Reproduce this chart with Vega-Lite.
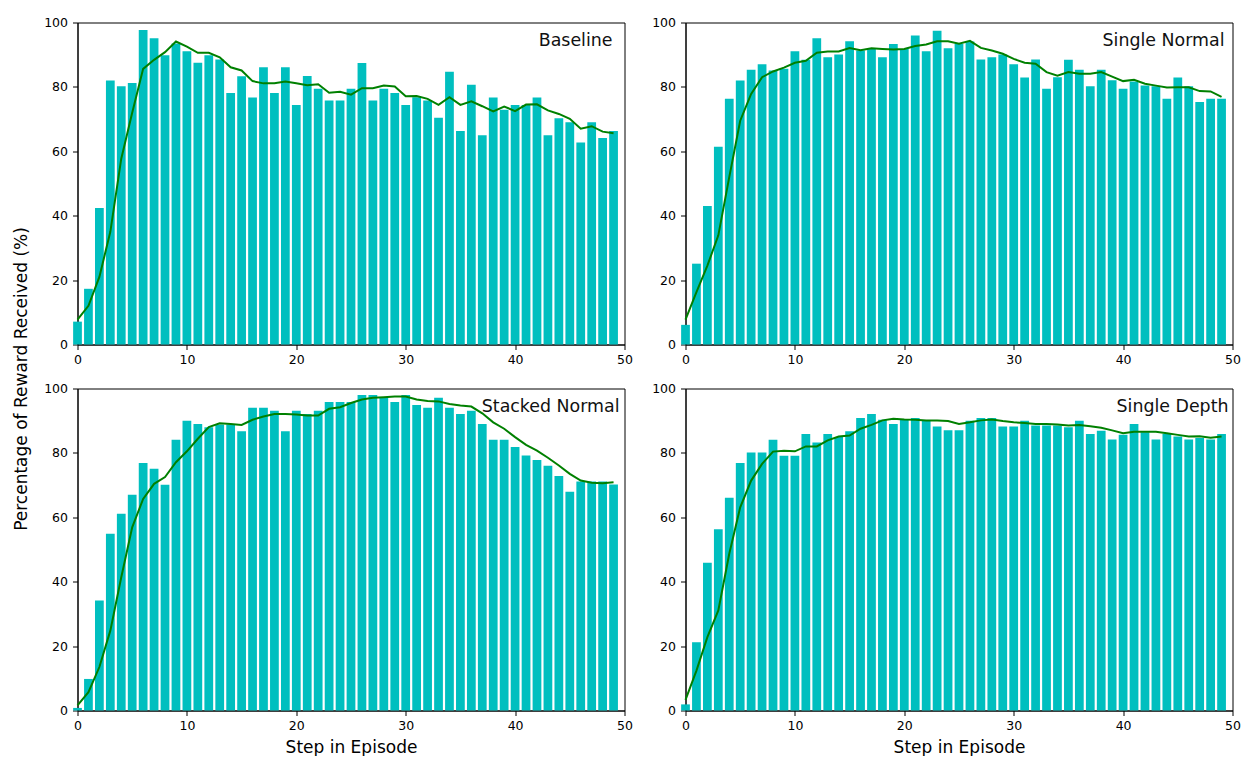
{
  "$schema": "https://vega.github.io/schema/vega-lite/v6.json",
  "background": "white",
  "padding": {"left": 11.5, "top": 15.5, "right": 0, "bottom": 0},
  "bounds": "flush",
  "columns": 2,
  "spacing": {"row": 44, "column": 61},
  "config": {
    "font": "DejaVu Sans",
    "view": {"stroke": "#000", "strokeWidth": 1},
    "axis": {
      "grid": false,
      "domainColor": "#000",
      "tickColor": "#000",
      "tickSize": 5,
      "labelColor": "#000",
      "labelFont": "DejaVu Sans",
      "labelFontSize": 12.5,
      "labelFlush": false,
      "labelOverlap": false,
      "labelPadding": 4,
      "titleFont": "DejaVu Sans",
      "titleFontSize": 17,
      "titleFontWeight": "normal",
      "titleColor": "#000"
    }
  },
  "datasets": {
    "runs": [
      {"panel": "Baseline", "step": 0, "reward": 7.1, "smooth": 7.7},
      {"panel": "Baseline", "step": 1, "reward": 17.3, "smooth": 12.0},
      {"panel": "Baseline", "step": 2, "reward": 42.4, "smooth": 21.0},
      {"panel": "Baseline", "step": 3, "reward": 82.0, "smooth": 35.0},
      {"panel": "Baseline", "step": 4, "reward": 80.2, "smooth": 57.7},
      {"panel": "Baseline", "step": 5, "reward": 81.2, "smooth": 72.0},
      {"panel": "Baseline", "step": 6, "reward": 97.7, "smooth": 85.6},
      {"panel": "Baseline", "step": 7, "reward": 95.1, "smooth": 88.4},
      {"panel": "Baseline", "step": 8, "reward": 89.8, "smooth": 90.8},
      {"panel": "Baseline", "step": 9, "reward": 93.5, "smooth": 94.1},
      {"panel": "Baseline", "step": 10, "reward": 91.1, "smooth": 92.5},
      {"panel": "Baseline", "step": 11, "reward": 87.5, "smooth": 90.6},
      {"panel": "Baseline", "step": 12, "reward": 89.8, "smooth": 90.6},
      {"panel": "Baseline", "step": 13, "reward": 88.5, "smooth": 89.2},
      {"panel": "Baseline", "step": 14, "reward": 78.1, "smooth": 86.1},
      {"panel": "Baseline", "step": 15, "reward": 83.3, "smooth": 85.1},
      {"panel": "Baseline", "step": 16, "reward": 76.7, "smooth": 81.8},
      {"panel": "Baseline", "step": 17, "reward": 86.1, "smooth": 81.1},
      {"panel": "Baseline", "step": 18, "reward": 78.1, "smooth": 81.1},
      {"panel": "Baseline", "step": 19, "reward": 86.1, "smooth": 81.7},
      {"panel": "Baseline", "step": 20, "reward": 74.4, "smooth": 81.1},
      {"panel": "Baseline", "step": 21, "reward": 83.4, "smooth": 80.5},
      {"panel": "Baseline", "step": 22, "reward": 79.4, "smooth": 80.8},
      {"panel": "Baseline", "step": 23, "reward": 75.8, "smooth": 78.2},
      {"panel": "Baseline", "step": 24, "reward": 75.8, "smooth": 78.5},
      {"panel": "Baseline", "step": 25, "reward": 79.4, "smooth": 77.6},
      {"panel": "Baseline", "step": 26, "reward": 87.4, "smooth": 79.6},
      {"panel": "Baseline", "step": 27, "reward": 75.8, "smooth": 79.6},
      {"panel": "Baseline", "step": 28, "reward": 79.4, "smooth": 80.4},
      {"panel": "Baseline", "step": 29, "reward": 78.1, "smooth": 80.1},
      {"panel": "Baseline", "step": 30, "reward": 74.4, "smooth": 77.1},
      {"panel": "Baseline", "step": 31, "reward": 76.8, "smooth": 77.2},
      {"panel": "Baseline", "step": 32, "reward": 75.8, "smooth": 76.3},
      {"panel": "Baseline", "step": 33, "reward": 70.4, "smooth": 74.4},
      {"panel": "Baseline", "step": 34, "reward": 84.7, "smooth": 76.8},
      {"panel": "Baseline", "step": 35, "reward": 66.3, "smooth": 74.4},
      {"panel": "Baseline", "step": 36, "reward": 80.7, "smooth": 75.5},
      {"panel": "Baseline", "step": 37, "reward": 65.0, "smooth": 74.0},
      {"panel": "Baseline", "step": 38, "reward": 76.7, "smooth": 72.4},
      {"panel": "Baseline", "step": 39, "reward": 72.9, "smooth": 73.9},
      {"panel": "Baseline", "step": 40, "reward": 74.4, "smooth": 72.5},
      {"panel": "Baseline", "step": 41, "reward": 74.4, "smooth": 74.5},
      {"panel": "Baseline", "step": 42, "reward": 76.7, "smooth": 74.6},
      {"panel": "Baseline", "step": 43, "reward": 65.0, "smooth": 72.7},
      {"panel": "Baseline", "step": 44, "reward": 70.3, "smooth": 71.6},
      {"panel": "Baseline", "step": 45, "reward": 69.0, "smooth": 70.1},
      {"panel": "Baseline", "step": 46, "reward": 62.7, "smooth": 67.0},
      {"panel": "Baseline", "step": 47, "reward": 69.0, "smooth": 67.8},
      {"panel": "Baseline", "step": 48, "reward": 64.1, "smooth": 66.1},
      {"panel": "Baseline", "step": 49, "reward": 66.3, "smooth": 65.6},

      {"panel": "Single Normal", "step": 0, "reward": 6.1, "smooth": 7.7},
      {"panel": "Single Normal", "step": 1, "reward": 25.1, "smooth": 16.3},
      {"panel": "Single Normal", "step": 2, "reward": 43.0, "smooth": 24.5},
      {"panel": "Single Normal", "step": 3, "reward": 61.4, "smooth": 33.9},
      {"panel": "Single Normal", "step": 4, "reward": 76.3, "smooth": 52.0},
      {"panel": "Single Normal", "step": 5, "reward": 82.0, "smooth": 69.5},
      {"panel": "Single Normal", "step": 6, "reward": 85.3, "smooth": 77.8},
      {"panel": "Single Normal", "step": 7, "reward": 87.0, "smooth": 83.0},
      {"panel": "Single Normal", "step": 8, "reward": 85.1, "smooth": 84.8},
      {"panel": "Single Normal", "step": 9, "reward": 85.6, "smooth": 86.0},
      {"panel": "Single Normal", "step": 10, "reward": 91.1, "smooth": 87.5},
      {"panel": "Single Normal", "step": 11, "reward": 88.4, "smooth": 88.1},
      {"panel": "Single Normal", "step": 12, "reward": 95.1, "smooth": 90.6},
      {"panel": "Single Normal", "step": 13, "reward": 89.2, "smooth": 91.0},
      {"panel": "Single Normal", "step": 14, "reward": 90.1, "smooth": 91.0},
      {"panel": "Single Normal", "step": 15, "reward": 94.2, "smooth": 92.1},
      {"panel": "Single Normal", "step": 16, "reward": 91.3, "smooth": 91.4},
      {"panel": "Single Normal", "step": 17, "reward": 91.8, "smooth": 92.0},
      {"panel": "Single Normal", "step": 18, "reward": 89.2, "smooth": 91.8},
      {"panel": "Single Normal", "step": 19, "reward": 93.3, "smooth": 91.6},
      {"panel": "Single Normal", "step": 20, "reward": 91.8, "smooth": 91.8},
      {"panel": "Single Normal", "step": 21, "reward": 96.0, "smooth": 92.7},
      {"panel": "Single Normal", "step": 22, "reward": 91.1, "smooth": 93.2},
      {"panel": "Single Normal", "step": 23, "reward": 97.4, "smooth": 94.2},
      {"panel": "Single Normal", "step": 24, "reward": 92.0, "smooth": 94.2},
      {"panel": "Single Normal", "step": 25, "reward": 93.3, "smooth": 93.4},
      {"panel": "Single Normal", "step": 26, "reward": 94.1, "smooth": 94.3},
      {"panel": "Single Normal", "step": 27, "reward": 88.5, "smooth": 92.1},
      {"panel": "Single Normal", "step": 28, "reward": 89.2, "smooth": 91.3},
      {"panel": "Single Normal", "step": 29, "reward": 90.1, "smooth": 90.3},
      {"panel": "Single Normal", "step": 30, "reward": 87.0, "smooth": 88.7},
      {"panel": "Single Normal", "step": 31, "reward": 82.9, "smooth": 87.5},
      {"panel": "Single Normal", "step": 32, "reward": 88.5, "smooth": 87.2},
      {"panel": "Single Normal", "step": 33, "reward": 79.4, "smooth": 84.6},
      {"panel": "Single Normal", "step": 34, "reward": 83.0, "smooth": 83.5},
      {"panel": "Single Normal", "step": 35, "reward": 88.4, "smooth": 84.6},
      {"panel": "Single Normal", "step": 36, "reward": 85.3, "smooth": 84.1},
      {"panel": "Single Normal", "step": 37, "reward": 80.2, "smooth": 84.1},
      {"panel": "Single Normal", "step": 38, "reward": 85.3, "smooth": 84.6},
      {"panel": "Single Normal", "step": 39, "reward": 82.1, "smooth": 83.2},
      {"panel": "Single Normal", "step": 40, "reward": 79.4, "smooth": 81.8},
      {"panel": "Single Normal", "step": 41, "reward": 81.7, "smooth": 82.2},
      {"panel": "Single Normal", "step": 42, "reward": 80.4, "smooth": 81.0},
      {"panel": "Single Normal", "step": 43, "reward": 80.2, "smooth": 80.4},
      {"panel": "Single Normal", "step": 44, "reward": 76.3, "smooth": 79.8},
      {"panel": "Single Normal", "step": 45, "reward": 82.9, "smooth": 79.9},
      {"panel": "Single Normal", "step": 46, "reward": 80.2, "smooth": 79.9},
      {"panel": "Single Normal", "step": 47, "reward": 75.3, "smooth": 78.7},
      {"panel": "Single Normal", "step": 48, "reward": 76.3, "smooth": 78.6},
      {"panel": "Single Normal", "step": 49, "reward": 76.3, "smooth": 76.9},

      {"panel": "Stacked Normal", "step": 0, "reward": 0.8, "smooth": 1.6},
      {"panel": "Stacked Normal", "step": 1, "reward": 9.8, "smooth": 5.7},
      {"panel": "Stacked Normal", "step": 2, "reward": 34.2, "smooth": 13.5},
      {"panel": "Stacked Normal", "step": 3, "reward": 54.9, "smooth": 24.8},
      {"panel": "Stacked Normal", "step": 4, "reward": 61.1, "smooth": 41.4},
      {"panel": "Stacked Normal", "step": 5, "reward": 67.0, "smooth": 56.9},
      {"panel": "Stacked Normal", "step": 6, "reward": 76.9, "smooth": 65.7},
      {"panel": "Stacked Normal", "step": 7, "reward": 75.1, "smooth": 70.4},
      {"panel": "Stacked Normal", "step": 8, "reward": 70.1, "smooth": 72.5},
      {"panel": "Stacked Normal", "step": 9, "reward": 84.1, "smooth": 77.1},
      {"panel": "Stacked Normal", "step": 10, "reward": 90.0, "smooth": 80.5},
      {"panel": "Stacked Normal", "step": 11, "reward": 89.0, "smooth": 84.4},
      {"panel": "Stacked Normal", "step": 12, "reward": 88.0, "smooth": 88.0},
      {"panel": "Stacked Normal", "step": 13, "reward": 88.8, "smooth": 89.2},
      {"panel": "Stacked Normal", "step": 14, "reward": 88.8, "smooth": 89.0},
      {"panel": "Stacked Normal", "step": 15, "reward": 86.7, "smooth": 88.7},
      {"panel": "Stacked Normal", "step": 16, "reward": 94.0, "smooth": 90.3},
      {"panel": "Stacked Normal", "step": 17, "reward": 94.0, "smooth": 91.3},
      {"panel": "Stacked Normal", "step": 18, "reward": 93.1, "smooth": 92.1},
      {"panel": "Stacked Normal", "step": 19, "reward": 86.7, "smooth": 92.1},
      {"panel": "Stacked Normal", "step": 20, "reward": 93.1, "smooth": 91.9},
      {"panel": "Stacked Normal", "step": 21, "reward": 92.1, "smooth": 91.6},
      {"panel": "Stacked Normal", "step": 22, "reward": 93.1, "smooth": 91.6},
      {"panel": "Stacked Normal", "step": 23, "reward": 95.8, "smooth": 93.7},
      {"panel": "Stacked Normal", "step": 24, "reward": 95.8, "smooth": 94.2},
      {"panel": "Stacked Normal", "step": 25, "reward": 95.8, "smooth": 95.5},
      {"panel": "Stacked Normal", "step": 26, "reward": 98.0, "smooth": 96.6},
      {"panel": "Stacked Normal", "step": 27, "reward": 98.0, "smooth": 97.1},
      {"panel": "Stacked Normal", "step": 28, "reward": 97.1, "smooth": 97.3},
      {"panel": "Stacked Normal", "step": 29, "reward": 95.8, "smooth": 97.5},
      {"panel": "Stacked Normal", "step": 30, "reward": 98.0, "smooth": 97.5},
      {"panel": "Stacked Normal", "step": 31, "reward": 94.9, "smooth": 96.6},
      {"panel": "Stacked Normal", "step": 32, "reward": 94.0, "smooth": 96.1},
      {"panel": "Stacked Normal", "step": 33, "reward": 97.1, "smooth": 96.0},
      {"panel": "Stacked Normal", "step": 34, "reward": 94.0, "smooth": 95.2},
      {"panel": "Stacked Normal", "step": 35, "reward": 92.1, "smooth": 94.7},
      {"panel": "Stacked Normal", "step": 36, "reward": 93.1, "smooth": 94.4},
      {"panel": "Stacked Normal", "step": 37, "reward": 89.0, "smooth": 92.3},
      {"panel": "Stacked Normal", "step": 38, "reward": 84.1, "smooth": 89.5},
      {"panel": "Stacked Normal", "step": 39, "reward": 84.1, "smooth": 87.5},
      {"panel": "Stacked Normal", "step": 40, "reward": 81.8, "smooth": 84.9},
      {"panel": "Stacked Normal", "step": 41, "reward": 79.2, "smooth": 82.5},
      {"panel": "Stacked Normal", "step": 42, "reward": 77.8, "smooth": 80.7},
      {"panel": "Stacked Normal", "step": 43, "reward": 76.0, "smooth": 78.5},
      {"panel": "Stacked Normal", "step": 44, "reward": 72.8, "smooth": 76.1},
      {"panel": "Stacked Normal", "step": 45, "reward": 67.9, "smooth": 73.5},
      {"panel": "Stacked Normal", "step": 46, "reward": 71.1, "smooth": 71.4},
      {"panel": "Stacked Normal", "step": 47, "reward": 71.1, "smooth": 70.7},
      {"panel": "Stacked Normal", "step": 48, "reward": 71.1, "smooth": 70.6},
      {"panel": "Stacked Normal", "step": 49, "reward": 70.2, "smooth": 70.9},

      {"panel": "Single Depth", "step": 0, "reward": 1.9, "smooth": 3.3},
      {"panel": "Single Depth", "step": 1, "reward": 21.2, "smooth": 12.4},
      {"panel": "Single Depth", "step": 2, "reward": 45.9, "smooth": 22.8},
      {"panel": "Single Depth", "step": 3, "reward": 56.3, "smooth": 31.1},
      {"panel": "Single Depth", "step": 4, "reward": 66.1, "smooth": 48.7},
      {"panel": "Single Depth", "step": 5, "reward": 76.9, "smooth": 63.1},
      {"panel": "Single Depth", "step": 6, "reward": 80.1, "smooth": 71.4},
      {"panel": "Single Depth", "step": 7, "reward": 80.1, "smooth": 76.6},
      {"panel": "Single Depth", "step": 8, "reward": 84.1, "smooth": 80.4},
      {"panel": "Single Depth", "step": 9, "reward": 79.1, "smooth": 80.7},
      {"panel": "Single Depth", "step": 10, "reward": 79.1, "smooth": 80.5},
      {"panel": "Single Depth", "step": 11, "reward": 85.9, "smooth": 82.0},
      {"panel": "Single Depth", "step": 12, "reward": 83.2, "smooth": 82.0},
      {"panel": "Single Depth", "step": 13, "reward": 85.9, "smooth": 83.9},
      {"panel": "Single Depth", "step": 14, "reward": 84.9, "smooth": 85.1},
      {"panel": "Single Depth", "step": 15, "reward": 86.7, "smooth": 85.4},
      {"panel": "Single Depth", "step": 16, "reward": 90.8, "smooth": 87.5},
      {"panel": "Single Depth", "step": 17, "reward": 92.1, "smooth": 88.7},
      {"panel": "Single Depth", "step": 18, "reward": 90.3, "smooth": 90.1},
      {"panel": "Single Depth", "step": 19, "reward": 89.0, "smooth": 90.6},
      {"panel": "Single Depth", "step": 20, "reward": 90.3, "smooth": 90.4},
      {"panel": "Single Depth", "step": 21, "reward": 90.8, "smooth": 90.3},
      {"panel": "Single Depth", "step": 22, "reward": 89.9, "smooth": 90.1},
      {"panel": "Single Depth", "step": 23, "reward": 88.2, "smooth": 90.1},
      {"panel": "Single Depth", "step": 24, "reward": 87.0, "smooth": 89.9},
      {"panel": "Single Depth", "step": 25, "reward": 87.0, "smooth": 89.0},
      {"panel": "Single Depth", "step": 26, "reward": 90.0, "smooth": 89.5},
      {"panel": "Single Depth", "step": 27, "reward": 90.8, "smooth": 90.1},
      {"panel": "Single Depth", "step": 28, "reward": 90.8, "smooth": 90.4},
      {"panel": "Single Depth", "step": 29, "reward": 88.2, "smooth": 89.9},
      {"panel": "Single Depth", "step": 30, "reward": 88.2, "smooth": 89.5},
      {"panel": "Single Depth", "step": 31, "reward": 90.0, "smooth": 89.3},
      {"panel": "Single Depth", "step": 32, "reward": 88.5, "smooth": 89.0},
      {"panel": "Single Depth", "step": 33, "reward": 88.5, "smooth": 89.0},
      {"panel": "Single Depth", "step": 34, "reward": 88.5, "smooth": 88.8},
      {"panel": "Single Depth", "step": 35, "reward": 88.0, "smooth": 88.5},
      {"panel": "Single Depth", "step": 36, "reward": 90.0, "smooth": 88.7},
      {"panel": "Single Depth", "step": 37, "reward": 85.9, "smooth": 88.3},
      {"panel": "Single Depth", "step": 38, "reward": 86.9, "smooth": 87.8},
      {"panel": "Single Depth", "step": 39, "reward": 84.2, "smooth": 87.0},
      {"panel": "Single Depth", "step": 40, "reward": 85.6, "smooth": 86.1},
      {"panel": "Single Depth", "step": 41, "reward": 89.0, "smooth": 86.6},
      {"panel": "Single Depth", "step": 42, "reward": 86.4, "smooth": 86.6},
      {"panel": "Single Depth", "step": 43, "reward": 84.2, "smooth": 86.6},
      {"panel": "Single Depth", "step": 44, "reward": 85.9, "smooth": 86.1},
      {"panel": "Single Depth", "step": 45, "reward": 85.1, "smooth": 85.6},
      {"panel": "Single Depth", "step": 46, "reward": 84.2, "smooth": 85.1},
      {"panel": "Single Depth", "step": 47, "reward": 84.6, "smooth": 85.2},
      {"panel": "Single Depth", "step": 48, "reward": 84.2, "smooth": 84.7},
      {"panel": "Single Depth", "step": 49, "reward": 85.9, "smooth": 85.1}
    ]
  },
  "concat": [
    {
      "width": 547,
      "height": 322,
      "data": {"name": "runs"},
      "transform": [{"filter": "datum.panel === 'Baseline'"}],
      "layer": [
        {
          "mark": {"type": "bar", "orient": "vertical", "color": "#00BFBF", "width": 8.75},
          "encoding": {
            "x": {"field": "step", "type": "quantitative", "scale": {"domain": [0, 50], "nice": false, "padding": 0},
                  "axis": {"values": [0, 10, 20, 30, 40, 50], "title": null}},
            "y": {"field": "reward", "type": "quantitative", "stack": null, "scale": {"domain": [0, 100], "nice": false},
                  "axis": {"values": [0, 20, 40, 60, 80, 100], "title": "Percentage of Reward Received (%)",
                           "titleX": -56, "titleY": 356, "titleBaseline": "middle", "titleAngle": -90, "labelPadding": 5}}
          }
        },
        {
          "mark": {"type": "line", "color": "#008000", "strokeWidth": 2},
          "encoding": {
            "x": {"field": "step", "type": "quantitative"},
            "y": {"field": "smooth", "type": "quantitative"}
          }
        },
        {
          "transform": [{"filter": "datum.step === 49"}],
          "mark": {"type": "text", "align": "right", "baseline": "middle", "fontSize": 17.4, "dx": -12, "dy": 18, "color": "#111"},
          "encoding": {
            "x": {"datum": 50, "type": "quantitative"},
            "y": {"datum": 100, "type": "quantitative"},
            "text": {"field": "panel"}
          }
        }
      ]
    },
    {
      "width": 547,
      "height": 322,
      "data": {"name": "runs"},
      "transform": [{"filter": "datum.panel === 'Single Normal'"}],
      "layer": [
        {
          "mark": {"type": "bar", "orient": "vertical", "color": "#00BFBF", "width": 8.75},
          "encoding": {
            "x": {"field": "step", "type": "quantitative", "scale": {"domain": [0, 50], "nice": false, "padding": 0},
                  "axis": {"values": [0, 10, 20, 30, 40, 50], "title": null}},
            "y": {"field": "reward", "type": "quantitative", "stack": null, "scale": {"domain": [0, 100], "nice": false},
                  "axis": {"values": [0, 20, 40, 60, 80, 100], "title": null, "labelPadding": 5}}
          }
        },
        {
          "mark": {"type": "line", "color": "#008000", "strokeWidth": 2},
          "encoding": {
            "x": {"field": "step", "type": "quantitative"},
            "y": {"field": "smooth", "type": "quantitative"}
          }
        },
        {
          "transform": [{"filter": "datum.step === 49"}],
          "mark": {"type": "text", "align": "right", "baseline": "middle", "fontSize": 17.4, "dx": -8, "dy": 18, "color": "#111"},
          "encoding": {
            "x": {"datum": 50, "type": "quantitative"},
            "y": {"datum": 100, "type": "quantitative"},
            "text": {"field": "panel"}
          }
        }
      ]
    },
    {
      "width": 547,
      "height": 322,
      "data": {"name": "runs"},
      "transform": [{"filter": "datum.panel === 'Stacked Normal'"}],
      "layer": [
        {
          "mark": {"type": "bar", "orient": "vertical", "color": "#00BFBF", "width": 8.75},
          "encoding": {
            "x": {"field": "step", "type": "quantitative", "scale": {"domain": [0, 50], "nice": false, "padding": 0},
                  "axis": {"values": [0, 10, 20, 30, 40, 50], "title": "Step in Episode", "titlePadding": 7}},
            "y": {"field": "reward", "type": "quantitative", "stack": null, "scale": {"domain": [0, 100], "nice": false},
                  "axis": {"values": [0, 20, 40, 60, 80, 100], "title": null, "labelPadding": 5}}
          }
        },
        {
          "mark": {"type": "line", "color": "#008000", "strokeWidth": 2},
          "encoding": {
            "x": {"field": "step", "type": "quantitative"},
            "y": {"field": "smooth", "type": "quantitative"}
          }
        },
        {
          "transform": [{"filter": "datum.step === 49"}],
          "mark": {"type": "text", "align": "right", "baseline": "middle", "fontSize": 17.4, "dx": -5, "dy": 18, "color": "#111"},
          "encoding": {
            "x": {"datum": 50, "type": "quantitative"},
            "y": {"datum": 100, "type": "quantitative"},
            "text": {"field": "panel"}
          }
        }
      ]
    },
    {
      "width": 547,
      "height": 322,
      "data": {"name": "runs"},
      "transform": [{"filter": "datum.panel === 'Single Depth'"}],
      "layer": [
        {
          "mark": {"type": "bar", "orient": "vertical", "color": "#00BFBF", "width": 8.75},
          "encoding": {
            "x": {"field": "step", "type": "quantitative", "scale": {"domain": [0, 50], "nice": false, "padding": 0},
                  "axis": {"values": [0, 10, 20, 30, 40, 50], "title": "Step in Episode", "titlePadding": 7}},
            "y": {"field": "reward", "type": "quantitative", "stack": null, "scale": {"domain": [0, 100], "nice": false},
                  "axis": {"values": [0, 20, 40, 60, 80, 100], "title": null, "labelPadding": 5}}
          }
        },
        {
          "mark": {"type": "line", "color": "#008000", "strokeWidth": 2},
          "encoding": {
            "x": {"field": "step", "type": "quantitative"},
            "y": {"field": "smooth", "type": "quantitative"}
          }
        },
        {
          "transform": [{"filter": "datum.step === 49"}],
          "mark": {"type": "text", "align": "right", "baseline": "middle", "fontSize": 17.4, "dx": -4, "dy": 18, "color": "#111"},
          "encoding": {
            "x": {"datum": 50, "type": "quantitative"},
            "y": {"datum": 100, "type": "quantitative"},
            "text": {"field": "panel"}
          }
        }
      ]
    }
  ]
}
